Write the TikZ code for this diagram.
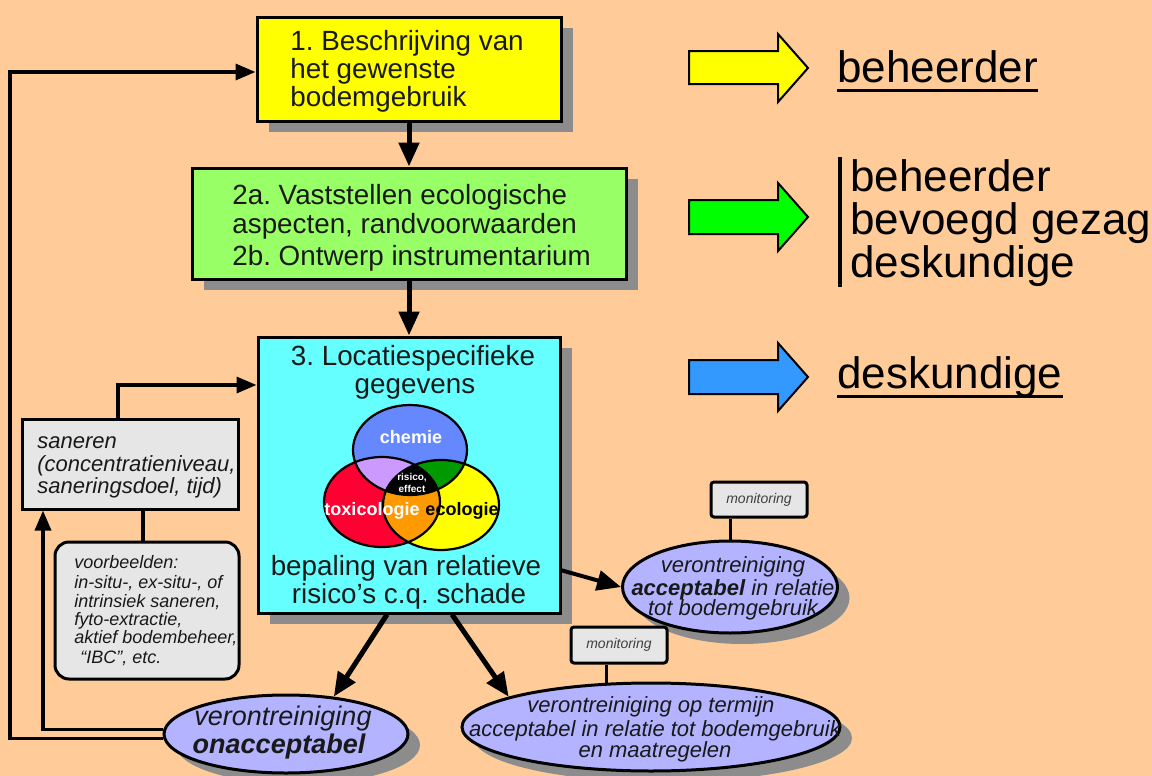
\documentclass[tikz,border=0pt]{standalone}
\usepackage{fontspec}
\setmainfont{Liberation Sans}
\usetikzlibrary{arrows.meta,shadows,shapes.geometric}
\frenchspacing
\definecolor{bgc}{RGB}{255,204,153}
\definecolor{yel}{RGB}{255,255,0}
\definecolor{grn}{RGB}{153,255,102}
\definecolor{cya}{RGB}{102,255,255}
\definecolor{lav}{RGB}{179,179,255}
\definecolor{lgray}{RGB}{230,230,230}
\definecolor{shd}{RGB}{140,140,140}
\definecolor{chem}{RGB}{102,136,255}
\definecolor{vred}{RGB}{255,0,51}
\definecolor{vlav}{RGB}{204,153,255}
\definecolor{vgrn}{RGB}{0,153,0}
\definecolor{vorg}{RGB}{255,153,0}
\definecolor{arrg}{RGB}{0,255,0}
\definecolor{arrb}{RGB}{51,153,255}
\definecolor{txt}{RGB}{25,25,25}
\begin{document}
\frenchspacing
\begin{tikzpicture}[x=0.5pt,y=-0.5pt,
  shadowed/.style={drop shadow={shadow xshift=6pt,shadow yshift=-5.5pt,fill=shd,opacity=1}},
  bigbox/.style={rectangle,draw=black,line width=1.5pt,shadowed,inner sep=0pt},
  ellnode/.style={ellipse,draw=black,line width=1.5pt,fill=lav,shadowed,inner sep=0pt},
  graybox/.style={rectangle,draw=black,line width=1.5pt,fill=lgray,inner sep=0pt},
  ln/.style={inner sep=0pt,anchor=base west,text=txt},
  lc/.style={inner sep=0pt,anchor=base,text=txt},
  fmain/.style={font=\fontsize{13.9}{16}\selectfont\frenchspacing},
  fsan/.style={font=\fontsize{11}{13}\selectfont\itshape},
  fvb/.style={font=\fontsize{9}{11}\selectfont\itshape},
  fell/.style={font=\fontsize{11}{13}\selectfont\itshape},
  fbig/.style={font=\fontsize{13.5}{16}\selectfont\itshape},
  fmon/.style={font=\fontsize{7}{8}\selectfont\itshape,text=black!75},
  fright/.style={font=\fontsize{22}{26}\selectfont,text=black},
  fvenn/.style={inner sep=0pt,font=\fontsize{9}{10}\selectfont\bfseries},
  conn/.style={line width=2.5pt,-{Triangle[length=12pt,width=10pt]}},
  fb/.style={line width=1.75pt},
  tipS/.style={-{Triangle[length=10pt,width=8pt]}},
  mline/.style={line width=1.5pt},
  blockarrow/.style={draw=black,line width=1pt,line join=miter}
]
\useasboundingbox (0,0) rectangle (1152,776);
\fill[bgc] (0,0) rectangle (1152,776);

% ---------- main boxes ----------
\node[bigbox,fill=yel,minimum width=152pt,minimum height=52pt] (b1) at (409,69) {};
\node[ln,fmain] (t1a) at (290,50) {1. Beschrijving van};
\node[ln,fmain] (t1b) at (290,78) {het gewenste};
\node[ln,fmain] (t1c) at (290,106) {bodemgebruik};

\node[bigbox,fill=grn,minimum width=217pt,minimum height=55.5pt] (b2) at (409,223.5) {};
\node[ln,fmain] (t2a) at (232,204) {2a. Vaststellen ecologische};
\node[ln,fmain] (t2b) at (232,233) {aspecten, randvoorwaarden};
\node[ln,fmain] (t2c) at (232,265) {2b. Ontwerp instrumentarium};

\node[bigbox,fill=cya,minimum width=151pt,minimum height=138pt] (b3) at (409,475) {};
\node[lc,fmain] (t3a) at (413,365) {3. Locatiespecifieke};
\node[lc,fmain] (t3b) at (415,393) {gegevens};
\node[lc,fmain] (t3c) at (406,575) {bepaling van relatieve};
\node[lc,fmain] (t3d) at (409,603) {risico’s c.q. schade};

% ---------- Venn diagram ----------
\def\vC{(410,450) ellipse [x radius=28.5pt, y radius=22.5pt]}
\def\vR{(382,502) ellipse [x radius=29pt, y radius=22.5pt]}
\def\vY{(441,505) ellipse [x radius=29pt, y radius=22.5pt]}
\fill[chem] \vC;
\fill[vred] \vR;
\fill[yel] \vY;
\begin{scope}\clip \vC; \fill[vlav] \vR; \fill[vgrn] \vY; \end{scope}
\begin{scope}\clip \vR; \fill[vorg] \vY; \end{scope}
\begin{scope}\clip \vC; \clip \vR; \fill[black] \vY; \end{scope}
\draw[line width=1.1pt] \vC;
\draw[line width=1.1pt] \vR;
\draw[line width=1.1pt] \vY;
\node[fvenn,text=white] (vc) at (411,437) {chemie};
\node[fvenn,text=white] (vt) at (372,511) {toxicologie};
\node[fvenn,text=black] (ve) at (462,511) {ecologie};
\node[inner sep=0pt,font=\fontsize{5}{6}\selectfont\bfseries,text=white] (vr1) at (412,478) {risico,};
\node[inner sep=0pt,font=\fontsize{5}{6}\selectfont\bfseries,text=white] (vr2) at (412,489) {effect};

% ---------- saneren ----------
\node[graybox,minimum width=108pt,minimum height=45pt] (san) at (130,464) {};
\node[ln,fsan] (s1) at (37,448) {saneren};
\node[ln,fsan] (s2) at (37,471) {(concentratieniveau,};
\node[ln,fsan] (s3) at (37,493) {saneringsdoel, tijd)};

\node[graybox,rounded corners=7pt,minimum width=92pt,minimum height=68.5pt] (vb) at (147,610.5) {};
\node[ln,fvb] (v1) at (74,568) {voorbeelden:};
\node[ln,fvb] (v2) at (74,588) {in-situ-, ex-situ-, of};
\node[ln,fvb] (v3) at (74,607) {intrinsiek saneren,};
\node[ln,fvb] (v4) at (74,625) {fyto-extractie,};
\node[ln,fvb] (v5) at (74,643) {aktief bodembeheer,};
\node[ln,fvb] (v6) at (80,663) {“IBC”, etc.};

% ---------- outcome ellipses ----------
\node[ellnode,minimum width=122pt,minimum height=39pt] (onacc) at (286,734) {};
\node[lc,fbig] (o1) at (283,725) {verontreiniging};
\node[lc,fbig] (o2) at (279,753) {\bfseries onacceptabel};

\node[ellnode,minimum width=107.5pt,minimum height=46pt] (acc) at (730,587) {};
\node[lc,fell] (a1) at (733,572) {verontreiniging};
\node[lc,fell] (a2) at (733,595) {{\bfseries acceptabel} in relatie};
\node[lc,fell] (a3) at (733,615) {tot bodemgebruik};

\node[ellnode,minimum width=189pt,minimum height=44pt] (termijn) at (651,727) {};
\node[lc,fell] (m1) at (651,712) {verontreiniging op termijn};
\node[lc,fell] (m2) at (655,736) {acceptabel in relatie tot bodemgebruik};
\node[lc,fell] (m3) at (655,757) {en maatregelen};

\node[graybox,rounded corners=1.5pt,minimum width=48pt,minimum height=17.5pt,fmon] (mon1) at (759,499.5) {monitoring};
\node[graybox,rounded corners=1.5pt,minimum width=48pt,minimum height=18pt,fmon] (mon2) at (619,645) {monitoring};

% ---------- connectors ----------
\draw[conn] (b1.south) -- (b2.north);
\draw[conn] (b2.south) -- (b3.north);
\draw[conn] ([xshift=-11pt]b3.south) -- (onacc.38);
\draw[conn] ([xshift=21.5pt]b3.south) -- (termijn.168);
\draw[line width=2pt,-{Triangle[length=12pt,width=10pt]}] (b3.-32) -- (acc.west);

\coordinate (fxo) at (10,0);
\coordinate (fxi) at (43,0);
\coordinate (fxv) at (143,0);
\coordinate (fxs) at (118,385);
\coordinate (fy1) at (0,72);
\draw[fb,tipS] (onacc.182) -| (fxo |- fy1) -- (b1.west |- fy1);
\draw[fb,tipS] (onacc.178) -| (fxi |- san.south);
\draw[fb,tipS] (fxs |- san.north) -- (fxs) -- (fxs -| b3.west);
\draw[fb] (fxv |- san.south) -- (fxv |- vb.north);

\draw[mline] (mon1.south -| acc.north) -- (acc.north);
\draw[mline] (mon2.south -| termijn.135) -- (termijn.135);

% ---------- legend arrows ----------
\draw[blockarrow,fill=yel] (689,51) -- (778,51) -- (778,34) -- (808,68) -- (778,102) -- (778,84) -- (689,84) -- cycle;
\draw[blockarrow,fill=arrg] (689,200) -- (778,200) -- (778,183) -- (808,217) -- (778,251) -- (778,234) -- (689,234) -- cycle;
\draw[blockarrow,fill=arrb] (689,360) -- (778,360) -- (778,343) -- (808,377) -- (778,411) -- (778,394) -- (689,394) -- cycle;

\node[ln,fright] (r1) at (837,82) {beheerder};
\draw[line width=1.5pt] ([yshift=-4pt]r1.base west) -- ([yshift=-4pt]r1.base east);

\coordinate (bar1) at (840,157);
\coordinate (bar2) at (840,287);
\draw[line width=1.6pt] (bar1) -- (bar2);
\node[ln,fright] (g1) at (850,191) {beheerder};
\node[ln,fright] (g2) at (850,234) {bevoegd gezag};
\node[ln,fright] (g3) at (850,277) {deskundige};

\node[ln,fright] (r3) at (837,388) {deskundige};
\draw[line width=1.5pt] ([yshift=-4pt]r3.base west) -- ([yshift=-4pt]r3.base east);
\end{tikzpicture}
\end{document}
